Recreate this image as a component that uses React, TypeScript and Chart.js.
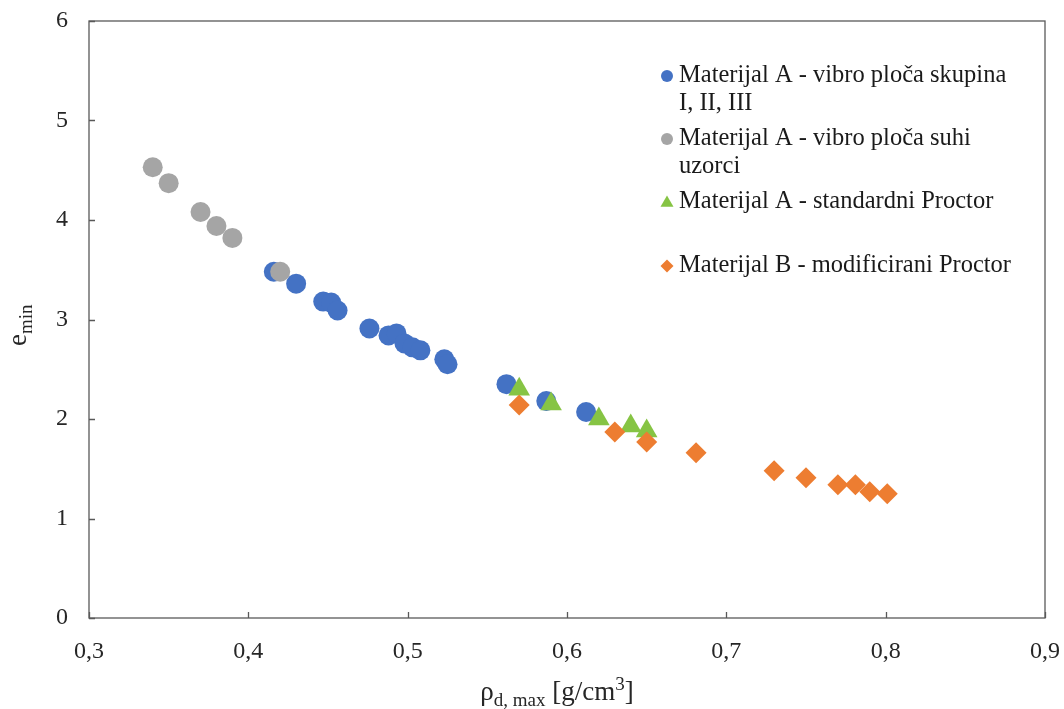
import React, { useEffect, useRef } from "react";
import { Chart, registerables } from "chart.js";

Chart.register(...registerables);

// ---- data ----
const seriesNames = [
  ["Materijal A - vibro ploča skupina", "I, II, III"],
  ["Materijal A - vibro ploča suhi", "uzorci"],
  ["Materijal A - standardni Proctor"],
  ["Materijal B - modificirani Proctor"],
];

const blueX = [0.416, 0.430, 0.447, 0.452, 0.456, 0.476, 0.488, 0.493, 0.498, 0.503, 0.508, 0.523, 0.525, 0.562, 0.587, 0.612];
const blueY = [3.48, 3.36, 3.18, 3.17, 3.09, 2.91, 2.84, 2.86, 2.76, 2.72, 2.69, 2.60, 2.55, 2.35, 2.18, 2.07];

const grayX = [0.340, 0.350, 0.370, 0.380, 0.390, 0.420];
const grayY = [4.53, 4.37, 4.08, 3.94, 3.82, 3.48];

const greenX = [0.570, 0.590, 0.620, 0.640, 0.650];
const greenY = [2.30, 2.15, 2.00, 1.93, 1.88];

const orangeX = [0.570, 0.630, 0.650, 0.681, 0.730, 0.750, 0.770, 0.781, 0.790, 0.801];
const orangeY = [2.14, 1.87, 1.77, 1.66, 1.48, 1.41, 1.34, 1.34, 1.27, 1.25];

const xTicks = [0.3, 0.4, 0.5, 0.6, 0.7, 0.8, 0.9];
const yTicks = [0, 1, 2, 3, 4, 5, 6];

const BLUE = "#4472C4";
const GRAY = "#A5A5A5";
const GREEN = "#86C444";
const ORANGE = "#ED7D31";

const SERIF = "'Liberation Serif', 'Times New Roman', serif";

const pts = (xs: number[], ys: number[]) => xs.map((x, i) => ({ x, y: ys[i] }));

function drawMarker(ctx: CanvasRenderingContext2D, style: string, x: number, y: number, r: number, color: string) {
  ctx.save();
  ctx.fillStyle = color;
  ctx.beginPath();
  if (style === "circle") {
    ctx.arc(x, y, r, 0, Math.PI * 2);
  } else if (style === "triangle") {
    ctx.moveTo(x, y - r);
    ctx.lineTo(x + r * Math.sin((2 * Math.PI) / 3), y - r * Math.cos((2 * Math.PI) / 3));
    ctx.lineTo(x + r * Math.sin((4 * Math.PI) / 3), y - r * Math.cos((4 * Math.PI) / 3));
    ctx.closePath();
  } else {
    ctx.moveTo(x - r, y);
    ctx.lineTo(x, y - r);
    ctx.lineTo(x + r, y);
    ctx.lineTo(x, y + r);
    ctx.closePath();
  }
  ctx.fill();
  ctx.restore();
}

const decorPlugin = {
  id: "decor",
  afterDraw(chart: any) {
    const ctx: CanvasRenderingContext2D = chart.ctx;
    const { left, right, top, bottom } = chart.chartArea;
    const xs = chart.scales.x;
    const ys = chart.scales.y;
    ctx.save();
    // box
    ctx.strokeStyle = "#595959";
    ctx.lineWidth = 1.3;
    ctx.strokeRect(left, top, right - left, bottom - top);
    // inward ticks
    ctx.beginPath();
    xTicks.forEach((v) => {
      const px = Math.round(xs.getPixelForValue(v)) + 0.5;
      ctx.moveTo(px, bottom);
      ctx.lineTo(px, bottom - 6);
    });
    yTicks.forEach((v) => {
      const py = Math.round(ys.getPixelForValue(v)) + 0.5;
      ctx.moveTo(left, py);
      ctx.lineTo(left + 6, py);
    });
    ctx.stroke();

    ctx.fillStyle = "#262626";
    // x title: ρ_{d, max} [g/cm^3]
    const big = `27px ${SERIF}`;
    const small = `19px ${SERIF}`;
    ctx.textBaseline = "alphabetic";
    ctx.textAlign = "left";
    const parts: [string, string, number][] = [
      ["ρ", big, 0],
      ["d, max", small, 6],
      [" [g/cm", big, 0],
      ["3", small, -10],
      ["]", big, 0],
    ];
    let total = 0;
    parts.forEach(([t, f]) => {
      ctx.font = f;
      total += ctx.measureText(t).width;
    });
    let cx = 557 - total / 2;
    const baseY = 700;
    parts.forEach(([t, f, dy]) => {
      ctx.font = f;
      ctx.fillText(t, cx, baseY + dy);
      cx += ctx.measureText(t).width;
    });

    // y title: e_min rotated
    ctx.save();
    ctx.translate(26, 346);
    ctx.rotate(-Math.PI / 2);
    ctx.font = big;
    ctx.fillText("e", 0, 0);
    const ew = ctx.measureText("e").width;
    ctx.font = small;
    ctx.fillText("min", ew, 6);
    ctx.restore();

    // legend
    const styles = ["circle", "circle", "triangle", "rectRot"];
    const colors = [BLUE, GRAY, GREEN, ORANGE];
    const rows = [76, 139, 202, 266];
    ctx.font = `24.5px ${SERIF}`;
    ctx.textBaseline = "middle";
    ctx.fillStyle = "#1a1a1a";
    seriesNames.forEach((lines, i) => {
      const y0 = rows[i];
      const r = styles[i] === "triangle" ? 7.5 : styles[i] === "rectRot" ? 6.5 : 6;
      drawMarker(ctx, styles[i], 667, y0 + (styles[i] === "triangle" ? 1 : 0), r, colors[i]);
      lines.forEach((ln, j) => {
        ctx.fillText(ln, 679, y0 + j * 28);
      });
    });
    ctx.restore();
  },
};

export default function App() {
  const ref = useRef<HTMLCanvasElement | null>(null);
  useEffect(() => {
    document.body.style.margin = "0";
    if (!ref.current) return;
    const chart = new Chart(ref.current, {
      type: "scatter",
      data: {
        datasets: [
          { label: seriesNames[3].join(" "), data: pts(orangeX, orangeY), backgroundColor: ORANGE, borderColor: ORANGE, borderWidth: 0, pointStyle: "rectRot", pointRadius: 10.5, order: 0 },
          { label: seriesNames[2].join(" "), data: pts(greenX, greenY), backgroundColor: GREEN, borderColor: GREEN, borderWidth: 0, pointStyle: "triangle", pointRadius: 12.5, order: 1 },
          { label: seriesNames[1].join(" "), data: pts(grayX, grayY), backgroundColor: GRAY, borderColor: GRAY, borderWidth: 0, pointStyle: "circle", pointRadius: 10, order: 2 },
          { label: seriesNames[0].join(" "), data: pts(blueX, blueY), backgroundColor: BLUE, borderColor: BLUE, borderWidth: 0, pointStyle: "circle", pointRadius: 10, order: 3 },
        ],
      },
      options: {
        responsive: false,
        animation: false,
        layout: { padding: { top: 21, right: 19, left: 0, bottom: 0 } },
        plugins: { legend: { display: false }, tooltip: { enabled: false } },
        scales: {
          x: {
            type: "linear",
            min: 0.3,
            max: 0.9,
            afterFit: (s: any) => { s.height = 91; s.paddingLeft = 0; s.paddingRight = 0; },
            afterBuildTicks: (s: any) => { s.ticks = xTicks.map((v) => ({ value: v })); },
            grid: { display: false },
            border: { display: false },
            ticks: {
              padding: 11,
              color: "#262626",
              font: { family: SERIF, size: 24 },
              callback: (v: any) => Number(v).toFixed(1).replace(".", ","),
            },
          },
          y: {
            type: "linear",
            min: 0,
            max: 6,
            afterFit: (s: any) => { s.width = 89; s.paddingTop = 0; s.paddingBottom = 0; },
            afterBuildTicks: (s: any) => { s.ticks = yTicks.map((v) => ({ value: v })); },
            grid: { display: false },
            border: { display: false },
            ticks: {
              padding: 13,
              color: "#262626",
              font: { family: SERIF, size: 24 },
              callback: (v: any) => String(v),
            },
          },
        },
      },
      plugins: [decorPlugin],
    } as any);
    return () => chart.destroy();
  }, []);
  return (
    <div style={{ position: "fixed", left: 0, top: 0, width: 1064, height: 709, background: "#fff" }}>
      <canvas ref={ref} width={1064} height={709} />
    </div>
  );
}
